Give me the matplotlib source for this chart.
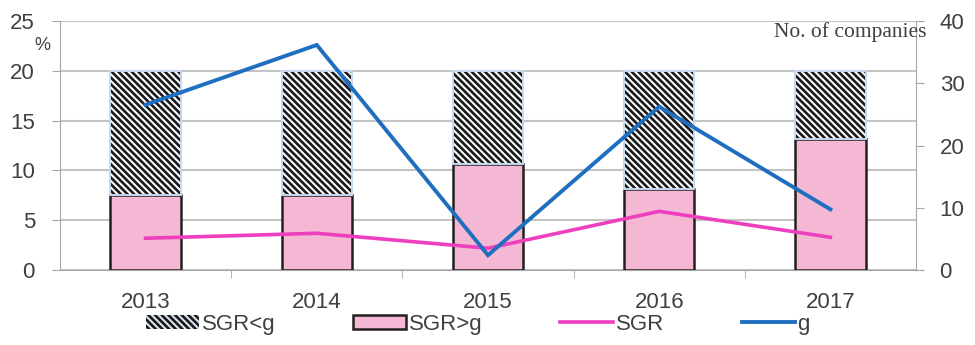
import numpy as np
import matplotlib.pyplot as plt
from matplotlib.patches import Patch
from matplotlib.lines import Line2D

years = ["2013", "2014", "2015", "2016", "2017"]
n_sgr_gt_g = [12, 12, 17, 13, 21]  # companies, SGR > g
n_sgr_lt_g = [20, 20, 15, 19, 11]  # companies, SGR < g
sgr = [3.2, 3.7, 2.2, 5.9, 3.3]  # %
g = [16.6, 22.6, 1.5, 16.4, 6.1]  # %


def main():
    plt.rcParams.update(
        {
            "font.family": ["Liberation Sans", "DejaVu Sans"],
            "font.size": 16,
            "hatch.linewidth": 1.9,
        }
    )
    fig = plt.figure(figsize=(9.75, 3.45), dpi=100)
    ax = fig.add_axes([0.0615, 0.217, 0.878, 0.722])
    ax_bar = ax.twinx()
    ax_line = ax.twinx()

    x = np.arange(len(years))
    w = 0.41
    gray = "#a6a6a6"
    txt = "#404040"

    # left axis (%) with grid
    ax.set_ylim(0, 25)
    ax.set_yticks(np.arange(0, 26, 5))
    ax.grid(axis="y", color="#c4c4c4", linewidth=1.5)
    ax.set_axisbelow(True)
    ax.set_xlim(-0.5, len(years) - 0.5)
    ax.set_xticks(x)
    ax.set_xticklabels(years)
    ax.set_xticks(x[:-1] + 0.5, minor=True)
    ax.tick_params(axis="x", which="major", length=0, pad=16, labelcolor=txt)
    ax.tick_params(axis="x", which="minor", length=6, color=gray, direction="out")
    ax.tick_params(axis="y", length=6, color=gray, labelcolor=txt, pad=12)
    for s in ["top", "right"]:
        ax.spines[s].set_visible(False)
    for s in ["left", "bottom"]:
        ax.spines[s].set_color(gray)

    # bars (companies) on right axis
    ax_bar.set_ylim(0, 40)
    ax_bar.set_yticks(np.arange(0, 41, 10))
    ax_bar.tick_params(axis="y", length=6, color=gray, labelcolor=txt, pad=11)
    for s in ["top", "left", "bottom"]:
        ax_bar.spines[s].set_visible(False)
    ax_bar.spines["right"].set_color(gray)

    ax_bar.bar(x, n_sgr_gt_g, w, color="#f4b8d4", edgecolor="#231f20", linewidth=1.8)
    ax_bar.bar(x, n_sgr_lt_g, w, bottom=n_sgr_gt_g, color="white",
               edgecolor="#1a1a1a", linewidth=0, hatch="\\" * 5)
    ax_bar.bar(x, n_sgr_lt_g, w, bottom=n_sgr_gt_g, color="none",
               edgecolor="#c6d9f1", linewidth=1.4)

    # lines (%) on top
    ax_line.set_ylim(0, 25)
    ax_line.axis("off")
    ax_line.plot(x, sgr, color="#ee3fbf", linewidth=2.6, solid_joinstyle="miter")
    ax_line.plot(x, g, color="#1f6fc0", linewidth=2.8, solid_joinstyle="miter")

    fig.text(42 / 975, 1 - 45 / 345, "%", fontsize=13, color=txt,
             ha="center", va="center")
    fig.text(927 / 975, 1 - 32 / 345, "No. of companies", fontsize=15.5,
             color="#404040", family="Liberation Serif", ha="right", va="center")

    handles = [
        Patch(facecolor="#dbe5f1", edgecolor="#1a1a1a", hatch="\\" * 5, linewidth=0),
        Patch(facecolor="#f4b8d4", edgecolor="#231f20", linewidth=1.8),
        Line2D([], [], color="#ee3fbf", linewidth=2.6),
        Line2D([], [], color="#1f6fc0", linewidth=2.8),
    ]
    labels = ["SGR<g", "SGR>g", "SGR", "g"]
    fig.legend(handles, labels, loc="center", bbox_to_anchor=(0.49, 0.06),
               ncol=4, frameon=False, columnspacing=3.5, handlelength=2.4,
               handletextpad=0.1, handleheight=0.6, fontsize=16, labelcolor=txt,
               borderpad=0)

    fig.savefig("out.png", dpi=100)


if __name__ == "__main__":
    main()
